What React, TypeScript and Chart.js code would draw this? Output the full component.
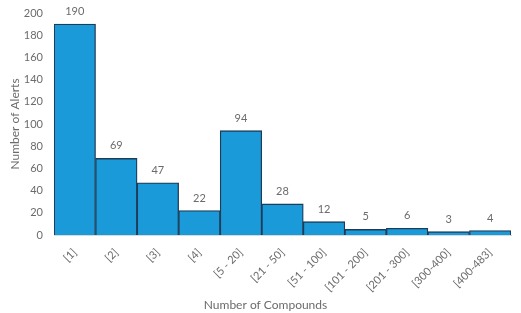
import React, { useEffect, useRef } from "react";
import { Chart, registerables } from "chart.js";

Chart.register(...registerables);

const categories = [
  "[1]",
  "[2]",
  "[3]",
  "[4]",
  "[5 - 20]",
  "[21 - 50]",
  "[51 - 100]",
  "[101 - 200]",
  "[201 - 300]",
  "[300-400]",
  "[400-483]",
];
const alerts = [190, 69, 47, 22, 94, 28, 12, 5, 6, 3, 4];
const yTicks = [0, 20, 40, 60, 80, 100, 120, 140, 160, 180, 200];
const xTitle = "Number of Compounds";
const yTitle = "Number of Alerts";

const FONT = "Lato, 'Open Sans', sans-serif";
const TEXT = "#6b6b6b";

// Writes each bar's value just above it, plus the category-axis title
const valueLabels = {
  id: "valueLabels",
  afterDatasetsDraw(chart: any) {
    const ctx = chart.ctx;
    const meta = chart.getDatasetMeta(0);
    ctx.save();
    ctx.font = `11px ${FONT}`;
    ctx.fillStyle = TEXT;
    ctx.textAlign = "center";
    ctx.textBaseline = "bottom";
    meta.data.forEach((bar: any, i: number) => {
      ctx.fillText(String(alerts[i]), bar.x, bar.y - 7);
    });
    ctx.font = `12px ${FONT}`;
    ctx.textBaseline = "middle";
    ctx.fillText(xTitle, chart.width / 2 + 5, chart.height - 8);
    ctx.restore();
  },
};

export default function App() {
  const ref = useRef<HTMLCanvasElement>(null);

  useEffect(() => {
    if (!ref.current) return;
    const chart = new Chart(ref.current, {
      type: "bar",
      data: {
        labels: categories,
        datasets: [
          {
            data: alerts,
            backgroundColor: "#1a9ad8",
            borderColor: "#1c3c58",
            borderWidth: 1.3,
            categoryPercentage: 1,
            barPercentage: 1,
          },
        ],
      },
      options: {
        responsive: false,
        animation: false,
        layout: { padding: { top: 13, right: 10, left: 0, bottom: 0 } },
        plugins: {
          legend: { display: false },
          tooltip: { enabled: false },
        },
        scales: {
          x: {
            grid: { display: false, drawTicks: false },
            border: { display: true, color: "#d9d9d9" },
            ticks: {
              color: TEXT,
              font: { family: FONT, size: 11 },
              minRotation: 45,
              maxRotation: 45,
              padding: 11,
              autoSkip: false,
            },
            afterFit: (s: any) => {
              s.height = 78;
            },
          },
          y: {
            min: 0,
            max: 200,
            afterBuildTicks: (s: any) => {
              s.ticks = yTicks.map((v) => ({ value: v }));
            },
            grid: { display: false, drawTicks: false },
            border: { display: false },
            ticks: {
              color: TEXT,
              font: { family: FONT, size: 11 },
              padding: 11,
            },
            title: {
              display: true,
              text: yTitle,
              color: TEXT,
              font: { family: FONT, size: 12 },
              padding: { top: 8, bottom: 0 },
            },
            afterFit: (s: any) => {
              s.width = 54;
              s.paddingTop = 0;
              s.paddingBottom = 0;
            },
          },
        },
      },
      plugins: [valueLabels],
    });
    return () => chart.destroy();
  }, []);

  return (
    <div style={{ position: "fixed", left: 0, top: 0, width: 521, height: 313, background: "#fff" }}>
      <canvas ref={ref} width={521} height={313} />
    </div>
  );
}
